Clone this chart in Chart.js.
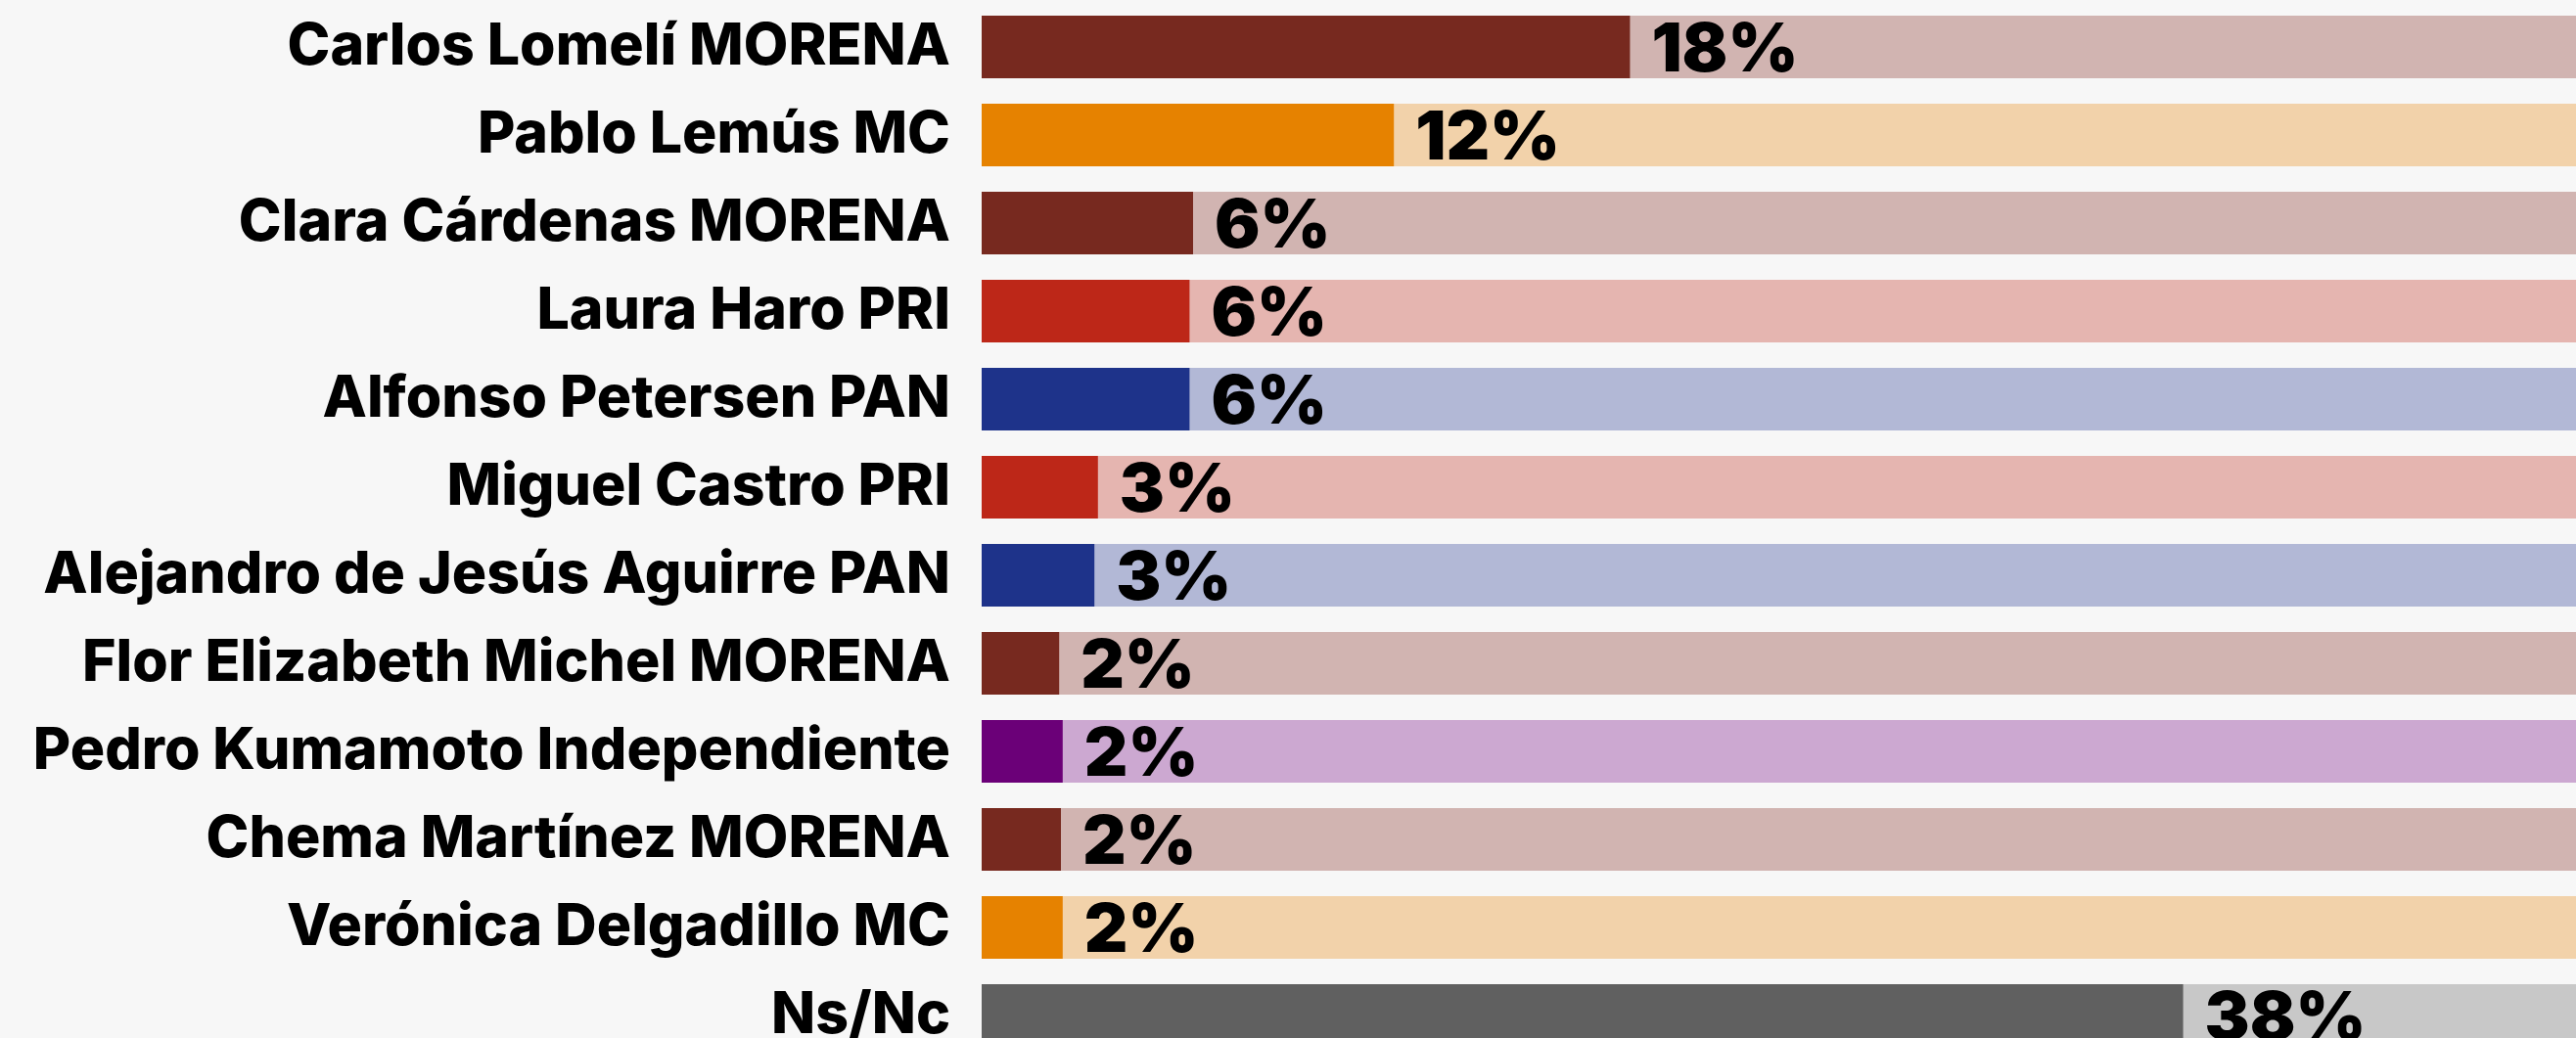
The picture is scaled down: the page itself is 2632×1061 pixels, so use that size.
<!DOCTYPE html>
<html>
<head>
<meta charset="utf-8">
<script src="https://cdn.jsdelivr.net/npm/chart.js@4/dist/chart.umd.min.js"></script>
<style>
  html, body { margin: 0; padding: 0; width: 2632px; height: 1061px; overflow: hidden; background: #f7f7f7; }
  #wrap { position: relative; width: 2632px; height: 1086px; }
</style>
</head>
<body>
<div id="wrap"><canvas id="c"></canvas></div>
<script>
// ---- data ----
const candidates = [
  "Carlos Lomelí MORENA",
  "Pablo Lemús MC",
  "Clara Cárdenas MORENA",
  "Laura Haro PRI",
  "Alfonso Petersen PAN",
  "Miguel Castro PRI",
  "Alejandro de Jesús Aguirre PAN",
  "Flor Elizabeth Michel MORENA",
  "Pedro Kumamoto Independiente",
  "Chema Martínez MORENA",
  "Verónica Delgadillo MC",
  "Ns/Nc"
];
// bar lengths as drawn in the picture (percent units)
const barValues = [18.4, 11.7, 6.0, 5.9, 5.9, 3.3, 3.2, 2.2, 2.3, 2.25, 2.3, 34.1];
// percentages printed next to each bar
const shownLabels = ["18%", "12%", "6%", "6%", "6%", "3%", "3%", "2%", "2%", "2%", "2%", "38%"];
const barColors = ["#77291f", "#e68200", "#77291f", "#bd2718", "#1e338a", "#bd2718", "#1e338a", "#77291f", "#6b0078", "#77291f", "#e68200", "#606060"];
const trackColors = ["#d1b4b1", "#f2d2aa", "#d1b4b1", "#e5b5b0", "#b2b8d6", "#e5b5b0", "#b2b8d6", "#d1b4b1", "#cca8d1", "#d1b4b1", "#f2d2aa", "#c8c8c8"];
const axisMax = 45.25;
const trackValues = candidates.map(() => axisMax);

const FONT = "Inter, 'Open Sans', sans-serif";

const valueLabels = {
  id: 'valueLabels',
  afterDatasetsDraw(chart) {
    const meta = chart.getDatasetMeta(0);
    const ctx = chart.ctx;
    ctx.save();
    ctx.font = "900 69px " + FONT;
    ctx.fillStyle = "#000";
    ctx.textAlign = "left";
    ctx.textBaseline = "alphabetic";
    meta.data.forEach((el, i) => {
      ctx.fillText(shownLabels[i], el.x + 22, el.y + 25);
    });
    ctx.restore();
  }
};

new Chart(document.getElementById('c'), {
  type: 'bar',
  data: {
    labels: candidates,
    datasets: [
      { data: barValues, backgroundColor: barColors, order: 1, grouped: false,
        categoryPercentage: 1, barPercentage: 0.711 },
      { data: trackValues, backgroundColor: trackColors, order: 2, grouped: false,
        categoryPercentage: 1, barPercentage: 0.711 }
    ]
  },
  options: {
    indexAxis: 'y',
    responsive: true,
    maintainAspectRatio: false,
    animation: false,
    layout: { padding: { top: 3, bottom: 3, left: 0, right: 0 } },
    plugins: { legend: { display: false }, tooltip: { enabled: false } },
    scales: {
      x: { display: false, min: 0, max: axisMax },
      y: {
        grid: { display: false, drawTicks: false },
        border: { display: false },
        ticks: { color: "#000", padding: 32, font: { family: FONT, weight: 800, size: 59 } },
        afterFit(scale) {
          scale.width = 1003;
          scale.paddingTop = 0;
          scale.paddingBottom = 0;
        }
      }
    }
  },
  plugins: [valueLabels]
});
</script>
</body>
</html>
